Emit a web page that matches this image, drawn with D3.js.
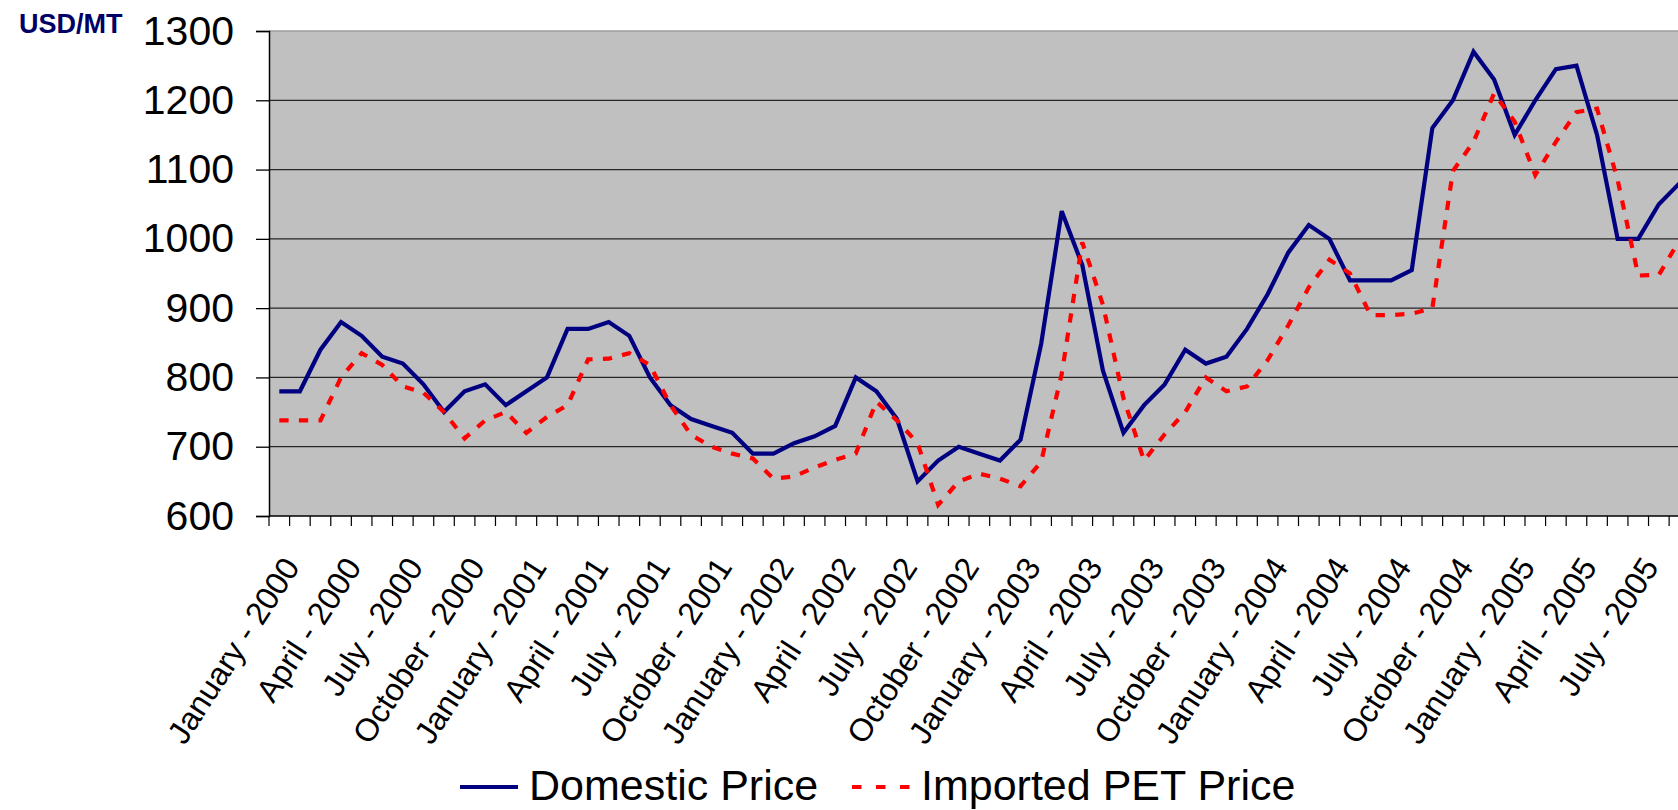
<!DOCTYPE html>
<html>
<head>
<meta charset="utf-8">
<script src="https://cdn.jsdelivr.net/npm/d3@7"></script>
<style>
  html, body { margin: 0; padding: 0; background: #ffffff; }
  svg { display: block; font-family: "Liberation Sans", Arial, sans-serif; }
</style>
</head>
<body>
<svg id="chart" width="1678" height="810"></svg>
<script>
// Monthly PET prices, USD per metric tonne, January 2000 – September 2005
const monthNames = ["January","February","March","April","May","June","July",
                    "August","September","October","November","December"];
const years = [2000, 2001, 2002, 2003, 2004, 2005];
const categories = years.flatMap(yr => monthNames.map(m => `${m} - ${yr}`)).slice(0, 69);

const domesticPrice = [
  780, 780, 840, 880, 860, 830, 820, 790, 750, 780, 790, 760,
  780, 800, 870, 870, 880, 860, 800, 760, 740, 730, 720, 690,
  690, 705, 715, 730, 800, 780, 740, 650, 680, 700, 690, 680,
  710, 848, 1040, 962, 810, 720, 760, 790, 840, 820, 830, 870,
  920, 980, 1020, 1000, 940, 940, 940, 955, 1160, 1200, 1270, 1230,
  1150, 1200, 1245, 1250, 1150, 1000, 1000, 1050, 1080
];

const importedPrice = [
  738, 738, 738, 800, 835, 818, 787, 778, 750, 712, 738, 750,
  720, 743, 760, 826, 827, 835, 818, 760, 717, 700, 690, 683,
  654, 657, 670, 681, 690, 765, 738, 705, 616, 650, 661, 654,
  643, 678, 805, 995, 905, 770, 680, 718, 750, 800, 780, 787,
  825, 875, 930, 970, 950, 890, 890, 892, 900, 1098, 1140, 1210,
  1169, 1092, 1140, 1183, 1188, 1085, 947, 948, 998
];

// Quarterly labels on the category axis
const tickLabels = categories.filter((c, i) => i % 3 === 0);
const yTicks = [600, 700, 800, 900, 1000, 1100, 1200, 1300];

const seriesNames = ["Domestic Price", "Imported PET Price"];

const svg = d3.select("#chart");

const plotLeft = 269, plotTop = 31, plotBottom = 516;
const catWidth = 20.59;

const x = d3.scaleBand()
  .domain(categories)
  .range([plotLeft, plotLeft + catWidth * categories.length])
  .paddingInner(0).paddingOuter(0);

const y = d3.scaleLinear()
  .domain([600, 1300])
  .range([plotBottom, plotTop]);

const cx = c => x(c) + x.bandwidth() / 2;
const [x0, x1] = x.range();

// plot area
svg.append("rect")
  .attr("x", x0).attr("y", plotTop)
  .attr("width", x1 - x0).attr("height", plotBottom - plotTop)
  .attr("fill", "#c0c0c0");

// horizontal gridlines
svg.append("g")
  .selectAll("line")
  .data(yTicks.filter(v => v > 600))
  .join("line")
  .attr("x1", x0).attr("x2", x1)
  .attr("y1", d => y(d)).attr("y2", d => y(d))
  .attr("stroke", d => d === 1300 ? "#9c9c9c" : "#262626")
  .attr("stroke-width", 1.3);

// value axis
const yAxis = svg.append("g")
  .attr("transform", `translate(${plotLeft},0)`)
  .call(d3.axisLeft(y).tickValues(yTicks).tickSize(13).tickPadding(22).tickFormat(d3.format("d")));
yAxis.select(".domain").attr("stroke", "#000").attr("stroke-width", 1.5);
yAxis.selectAll(".tick line").attr("stroke", "#000").attr("stroke-width", 1.3);
yAxis.selectAll(".tick text")
  .attr("font-size", 41)
  .attr("font-family", "'Liberation Sans', Arial, sans-serif")
  .attr("fill", "#000");

// category axis line and boundary ticks
svg.append("line")
  .attr("x1", x0).attr("x2", x1)
  .attr("y1", plotBottom).attr("y2", plotBottom)
  .attr("stroke", "#000").attr("stroke-width", 1.5);

svg.append("g")
  .selectAll("line")
  .data(categories)
  .join("line")
  .attr("x1", d => x(d)).attr("x2", d => x(d))
  .attr("y1", plotBottom).attr("y2", plotBottom + 10)
  .attr("stroke", "#000").attr("stroke-width", 1.2);

// rotated quarterly labels
svg.append("g")
  .selectAll("text")
  .data(tickLabels)
  .join("text")
  .attr("transform", d => `translate(${cx(d) + 12},${plotBottom + 45}) rotate(-57)`)
  .attr("text-anchor", "end")
  .attr("dy", "0.35em")
  .attr("font-size", 32)
  .attr("fill", "#000")
  .text(d => d);

// series lines
const line = d3.line()
  .x((v, i) => cx(categories[i]))
  .y(v => y(v));

svg.append("path")
  .datum(domesticPrice)
  .attr("d", line)
  .attr("fill", "none")
  .attr("stroke", "#000080")
  .attr("stroke-width", 4.2)
  .attr("stroke-linejoin", "miter")
  .attr("stroke-miterlimit", 3);

svg.append("path")
  .datum(importedPrice)
  .attr("d", line)
  .attr("fill", "none")
  .attr("stroke", "#ff0000")
  .attr("stroke-width", 4.2)
  .attr("stroke-dasharray", "9.3,10.3");

// unit label
svg.append("text")
  .attr("x", 19).attr("y", 33)
  .attr("font-size", 27)
  .attr("font-weight", "bold")
  .attr("fill", "#000066")
  .text("USD/MT");

// legend
const legend = svg.append("g");
const legendItems = [
  { name: seriesNames[0], x: 460, color: "#000080", dash: null },
  { name: seriesNames[1], x: 852, color: "#ff0000", dash: "9.5,14.5" }
];
legendItems.forEach(item => {
  legend.append("line")
    .attr("x1", item.x).attr("x2", item.x + 58)
    .attr("y1", 787).attr("y2", 787)
    .attr("stroke", item.color)
    .attr("stroke-width", 4.2)
    .attr("stroke-dasharray", item.dash);
  legend.append("text")
    .attr("x", item.x + 69).attr("y", 800)
    .attr("font-size", 43)
    .attr("fill", "#000")
    .text(item.name);
});
</script>
</body>
</html>
